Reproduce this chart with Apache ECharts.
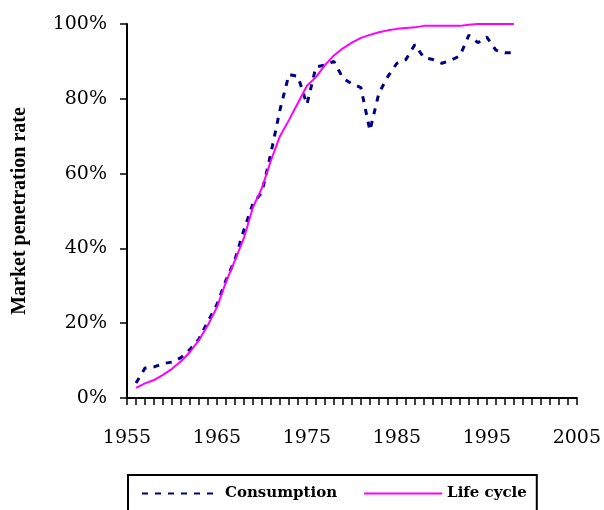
<!DOCTYPE html>
<html>
<head>
<meta charset="utf-8">
<script src="https://cdn.jsdelivr.net/npm/echarts@6/dist/echarts.min.js"></script>
<style>
html,body{margin:0;padding:0;background:#fff;}
#chart{width:604px;height:510px;}
</style>
</head>
<body>
<div id="chart"></div>
<script>
var years = [1956,1957,1958,1959,1960,1961,1962,1963,1964,1965,1966,1967,1968,1969,1970,1971,1972,1973,1974,1975,1976,1977,1978,1979,1980,1981,1982,1983,1984,1985,1986,1987,1988,1989,1990,1991,1992,1993,1994,1995,1996,1997,1998];
var consumption = [4,8,8.3,9.2,9.6,10.8,13,15.8,20.5,25,31.5,37,45,52,55,65.5,77,86.5,86,78.5,88.5,89,90,85.5,84,83,71.5,81.5,86,89.5,90.5,94.5,91,90.5,89.5,90.3,91.5,97,95,96.5,93,92.3,92.3];
var lifeCycle = [2.7,3.9,4.8,6.2,7.8,9.8,12.3,15.5,19.5,24.3,31,36.8,42.8,51,56.2,63.5,70,74.3,78.9,83.5,85.8,89,91.6,93.5,95,96.3,97.1,97.8,98.3,98.7,98.9,99.1,99.5,99.5,99.5,99.5,99.5,99.8,100,100,100,100,100];
var xTicks = {min:1955, max:2005, interval:10};
var yTicks = {min:0, max:100, interval:20};
var seriesNames = ['Consumption','Life cycle'];

function pairs(xs, ys){ return xs.map(function(x,i){ return [x, ys[i]]; }); }

var chart = echarts.init(document.getElementById('chart'), null, {renderer:'canvas'});
chart.setOption({
  animation:false,
  backgroundColor:'#ffffff',
  grid:{left:127, right:17, top:24, bottom:112, containLabel:false},
  xAxis:{
    type:'value', min:xTicks.min, max:xTicks.max, interval:xTicks.interval,
    axisLine:{show:true, onZero:false, lineStyle:{color:'#000', width:2}},
    axisTick:{show:true, inside:false, length:7, lineStyle:{color:'#000', width:1.5}},
    minorTick:{show:true, splitNumber:10, length:7, lineStyle:{color:'#000', width:1.5}},
    splitLine:{show:false},
    axisLabel:{color:'#000', fontFamily:'DejaVu Serif', fontSize:19, margin:31,
      formatter:function(v){ return String(v); }}
  },
  yAxis:{
    type:'value', min:yTicks.min, max:yTicks.max, interval:yTicks.interval,
    name:'Market penetration rate', nameLocation:'middle', nameRotate:90, nameGap:97,
    nameTextStyle:{color:'#000', fontFamily:'Liberation Serif', fontWeight:'bold', fontSize:20},
    axisLine:{show:true, lineStyle:{color:'#000', width:2}},
    axisTick:{show:true, inside:false, length:7, lineStyle:{color:'#000', width:1.5}},
    splitLine:{show:false},
    axisLabel:{color:'#000', fontFamily:'DejaVu Serif', fontSize:19, margin:20, formatter:'{value}%'}
  },
  legend:{
    left:128, top:475,
    data:seriesNames,
    itemWidth:78, itemHeight:14, itemGap:26,
    padding:[11,10,20,13],
    borderColor:'#000', borderWidth:2,
    itemStyle:{opacity:0},
    textStyle:{color:'#000', fontFamily:'DejaVu Serif', fontWeight:'bold', fontSize:15}
  },
  series:[
    {name:seriesNames[0], type:'line', data:pairs(years, consumption), symbol:'none',
     lineStyle:{color:'#000080', width:3, type:[6,7]}, itemStyle:{color:'#000080'}},
    {name:seriesNames[1], type:'line', data:pairs(years, lifeCycle), symbol:'none',
     lineStyle:{color:'#ff00ff', width:2, type:'solid'}, itemStyle:{color:'#ff00ff'}}
  ]
});
</script>
</body>
</html>
